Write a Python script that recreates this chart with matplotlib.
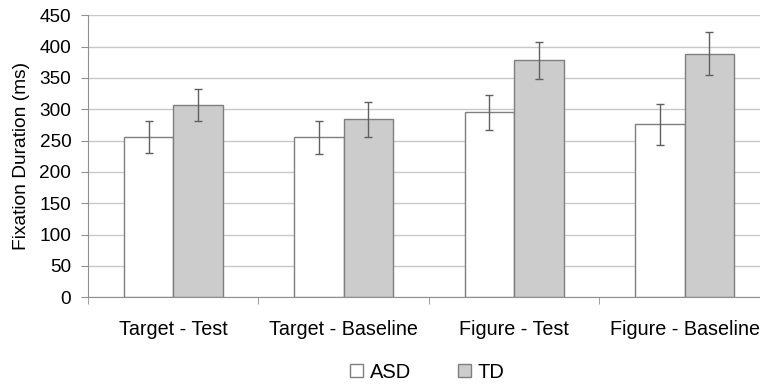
import matplotlib.pyplot as plt
import numpy as np

plt.rcParams['font.family'] = ['Liberation Sans', 'DejaVu Sans']

categories = ["Target - Test", "Target - Baseline", "Figure - Test", "Figure - Baseline"]
asd_mean = [256, 255, 295, 276]
asd_err = [25, 26, 28, 33]
td_mean = [307, 284, 378, 389]
td_err = [26, 28, 29, 34]

fig = plt.figure(figsize=(7.6, 3.88), dpi=100)
ax = fig.add_axes([0.1158, 0.2338, 0.897, 0.7268])

x = np.arange(len(categories))
w = 0.29
edge = "#7f7f7f"
ax.bar(x - w / 2, asd_mean, w, color="white", edgecolor=edge, linewidth=1, label="ASD", zorder=2)
ax.bar(x + w / 2, td_mean, w, color="#cccccc", edgecolor=edge, linewidth=1, label="TD", zorder=2)
ax.errorbar(x - w / 2, asd_mean, yerr=asd_err, fmt="none", ecolor="#606060",
            elinewidth=1, capsize=3, capthick=1, zorder=3)
ax.errorbar(x + w / 2, td_mean, yerr=td_err, fmt="none", ecolor="#606060",
            elinewidth=1, capsize=3, capthick=1, zorder=3)

ax.set_xlim(-0.5, len(categories) - 0.5)
ax.set_ylim(0, 450)
ax.set_yticks(np.arange(0, 451, 50))
ax.yaxis.grid(True, color="#c8c8c8", linewidth=1)
ax.set_axisbelow(True)

ax.set_xticks(x)
ax.set_xticklabels(categories)
ax.set_xticks(np.arange(-0.5, len(categories)), minor=True)
ax.tick_params(axis="x", which="major", length=0, pad=16, labelsize=14.2)
ax.tick_params(axis="x", which="minor", length=5, color="#909090")
ax.tick_params(axis="y", length=5, color="#909090", labelsize=13.7, pad=7)

for s in ["top", "right"]:
    ax.spines[s].set_visible(False)
ax.spines["left"].set_color("#909090")
ax.spines["bottom"].set_color("#909090")

ax.set_ylabel("Fixation Duration (ms)", fontsize=13.8)
ax.yaxis.set_label_coords(-0.085, 0.5)

fig.legend(loc="center", bbox_to_anchor=(0.5625, 0.041), ncol=2, frameon=False,
           fontsize=14.5, handlelength=0.65, handleheight=0.65, handletextpad=0.35,
           columnspacing=2.3)

fig.savefig("out.png", dpi=100)
plt.close(fig)
